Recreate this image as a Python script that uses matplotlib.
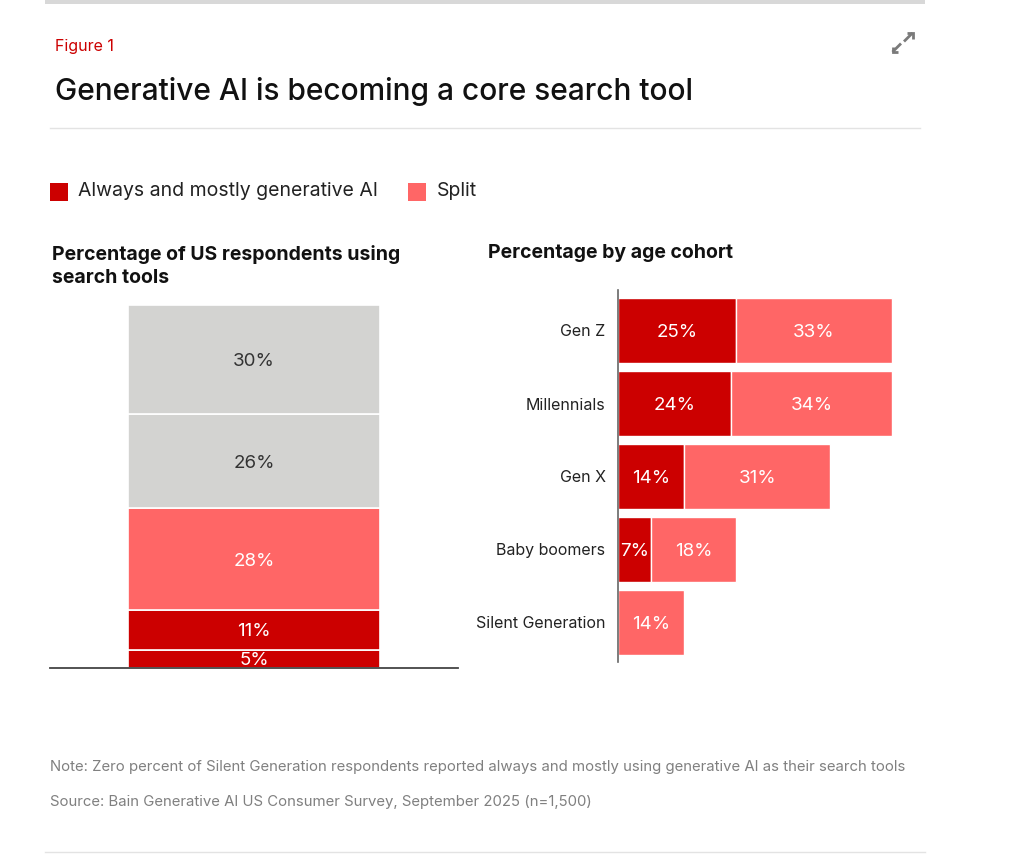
import matplotlib
matplotlib.use("Agg")
import matplotlib.pyplot as plt
from matplotlib.patches import Rectangle
import numpy as np

plt.rcParams['font.family'] = ['Inter', 'DejaVu Sans']

W, H = 1024, 857
DARK, LIGHT, GRAY = "#cc0000", "#ff6666", "#d3d3d1"

# left stacked bar (bottom to top)
total_vals = [5, 11, 28, 26, 30]
total_cols = [DARK, DARK, LIGHT, GRAY, GRAY]
total_txt = ["white", "white", "white", "#333333", "#333333"]

# right chart
cohorts = ["Gen Z", "Millennials", "Gen X", "Baby boomers", "Silent Generation"]
always = [25, 24, 14, 7, 0]
split = [33, 34, 31, 18, 14]

fig = plt.figure(figsize=(W / 100, H / 100), dpi=100)


def fx(x):
    return x / W


def fy(y):
    return 1 - y / H


def box(x0, y0, x1, y1):
    return [fx(x0), fy(y1), fx(x1) - fx(x0), fy(y0) - fy(y1)]


def pline(xs, ys, **kw):
    fig.add_artist(plt.Line2D([fx(v) for v in xs], [fy(v) for v in ys], **kw))


# frame lines
fig.add_artist(Rectangle((fx(45), fy(4)), fx(925) - fx(45), fy(0) - fy(4),
                         transform=fig.transFigure, color="#d8d8d8", lw=0))
pline([50, 920], [128, 128], color="#e3e3e3", lw=1)
pline([45, 925], [852, 852], color="#e3e3e3", lw=1)

# expand icon
ic = dict(color="#7a7a7a", lw=2, solid_capstyle="butt", solid_joinstyle="miter")
pline([904, 912.5], [41.5, 33], **ic)
pline([907, 912.5, 912.5], [33, 33, 38.5], **ic)
pline([901, 892.5], [43.5, 52], **ic)
pline([892.5, 892.5, 898], [46.5, 52, 52], **ic)

fig.text(fx(55), fy(46), "Figure 1", color="#cc0000", fontsize=11.5, va="center")
fig.text(fx(55), fy(91), "Generative AI is becoming a core search tool", color="#111111",
         fontsize=21.5, fontweight="medium", va="center")

# legend
fig.add_artist(Rectangle((fx(50), fy(201)), fx(18), 18 / H, transform=fig.transFigure, color=DARK, lw=0))
fig.text(fx(78), fy(191), "Always and mostly generative AI", fontsize=14, color="#222222", va="center")
fig.add_artist(Rectangle((fx(408), fy(201)), fx(18), 18 / H, transform=fig.transFigure, color=LIGHT, lw=0))
fig.text(fx(437), fy(191), "Split", fontsize=14, color="#222222", va="center")

fig.text(fx(52), fy(266), "Percentage of US respondents using\nsearch tools", fontsize=14,
         fontweight="bold", color="#111111", va="center", linespacing=1.3)
fig.text(fx(488), fy(253), "Percentage by age cohort", fontsize=14,
         fontweight="bold", color="#111111", va="center")

# left chart
axl = fig.add_axes(box(50, 305, 458, 668))
bottom = 0
for v, c, tc in zip(total_vals, total_cols, total_txt):
    axl.bar(0.5, v, width=252 / 408, bottom=bottom, color=c, edgecolor="white", linewidth=1.2)
    axl.text(0.5, bottom + v / 2, f"{v}%", ha="center", va="center_baseline", color=tc, fontsize=13.5)
    bottom += v
axl.set_xlim(0, 1)
axl.set_ylim(0, 100)
axl.axis("off")
axl.axhline(0, color="#444444", lw=1.3, clip_on=False)

# right chart
axr = fig.add_axes(box(618, 290, 920, 662))
y = np.arange(len(cohorts))
axr.barh(y, always, height=65 / 73, color=DARK, edgecolor="white", linewidth=1)
axr.barh(y, split, left=always, height=65 / 73, color=LIGHT, edgecolor="white", linewidth=1)
for i in range(len(cohorts)):
    if always[i] > 0:
        axr.text(always[i] / 2, i, f"{always[i]}%", ha="center", va="center_baseline",
                 color="white", fontsize=13.5)
    axr.text(always[i] + split[i] / 2, i, f"{split[i]}%", ha="center", va="center_baseline",
             color="white", fontsize=13.5)
axr.set_xlim(0, 302 / 4.72)
axr.set_ylim(4 + 39.5 / 73, -40.5 / 73)
axr.set_yticks(y)
axr.set_yticklabels(cohorts, fontsize=11.5, color="#222222")
axr.tick_params(axis="y", length=0, pad=9)
axr.set_xticks([])
for s in ["top", "right", "bottom"]:
    axr.spines[s].set_visible(False)
axr.spines["left"].set_color("#666666")
axr.spines["left"].set_linewidth(1.2)

fig.text(fx(50), fy(767), "Note: Zero percent of Silent Generation respondents reported always and mostly using generative AI as their search tools",
         fontsize=10.75, color="#808080", va="center")
fig.text(fx(50), fy(802), "Source: Bain Generative AI US Consumer Survey, September 2025 (n=1,500)",
         fontsize=10.75, color="#808080", va="center")

fig.savefig("out.png", dpi=100)
